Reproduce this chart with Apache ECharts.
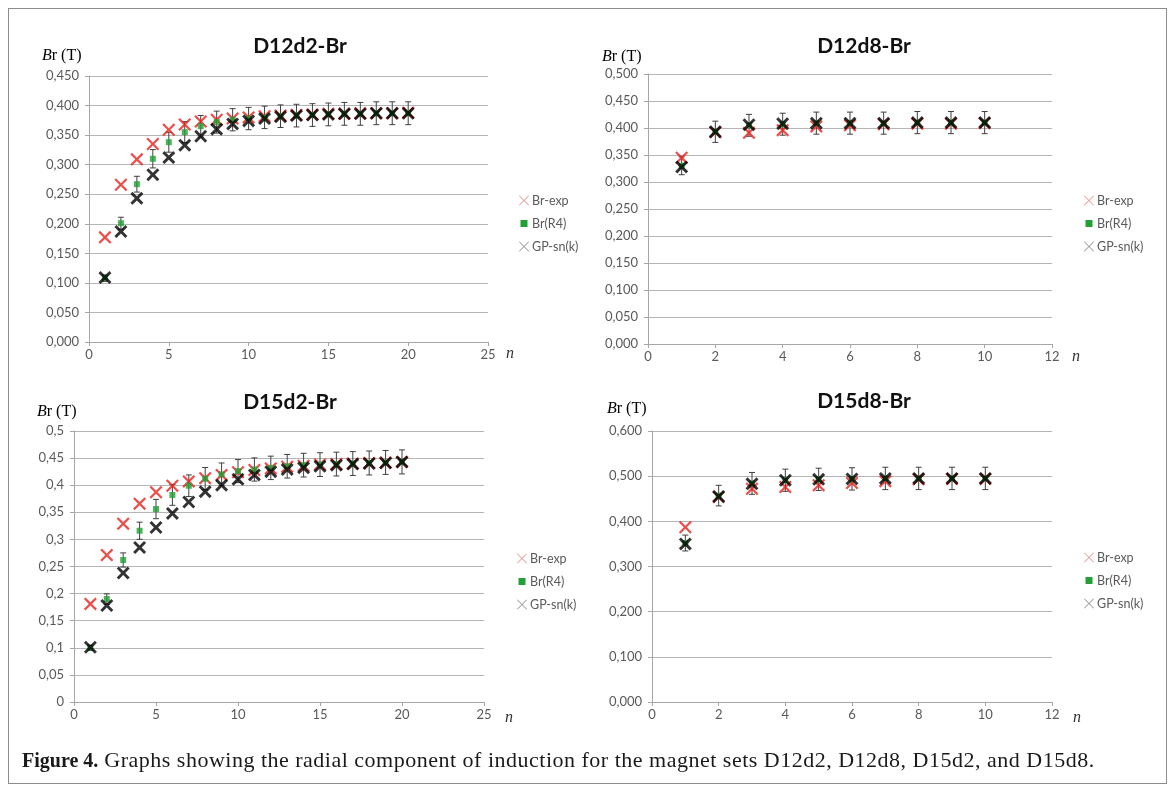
<!DOCTYPE html>
<html>
<head>
<meta charset="utf-8">
<script src="https://cdn.jsdelivr.net/npm/echarts@6/dist/echarts.min.js"></script>
<style>
  body { margin: 0; background: #fff; }
  #marco { position: absolute; left: 8px; top: 8px; width: 1157px; height: 774px; border: 1px solid #8c8c8c; }
  #grafico { position: absolute; left: 0; top: 0; width: 1171px; height: 792px; }
  #pie { position: absolute; left: 22px; top: 747px; font-family: "Liberation Serif", serif; font-size: 22px; letter-spacing: 0.5px; color: #1a1a1a; white-space: nowrap; }
  #pie b { font-size: 20px; letter-spacing: 0; }
</style>
</head>
<body>
<div id="marco"></div>
<div id="grafico"></div>
<div id="pie"><b>Figure 4.</b> Graphs showing the radial component of induction for the magnet sets D12d2, D12d8, D15d2, and D15d8.</div>
<script>
// valores de n
var nLargo = [1, 2, 3, 4, 5, 6, 7, 8, 9, 10, 11, 12, 13, 14, 15, 16, 17, 18, 19, 20];
var nCorto = [1, 2, 3, 4, 5, 6, 7, 8, 9, 10];

var nombres = ['Br-exp', 'Br(R4)', 'GP-sn(k)'];
var titulos = ['D12d2-Br', 'D12d8-Br', 'D15d2-Br', 'D15d8-Br'];

// D12d2
var d12d2Exp = [0.177, 0.266, 0.309, 0.335, 0.359, 0.368, 0.373, 0.376, 0.378, 0.380, 0.382, 0.383, 0.384, 0.385, 0.386, 0.386, 0.387, 0.387, 0.387, 0.388];
var d12d2R4 = [0.108, 0.201, 0.267, 0.310, 0.338, 0.355, 0.365, 0.372, 0.376, 0.378, 0.380, 0.382, 0.383, 0.384, 0.385, 0.386, 0.386, 0.387, 0.387, 0.387];
var d12d2GP = [0.109, 0.187, 0.243, 0.283, 0.312, 0.333, 0.348, 0.360, 0.369, 0.374, 0.378, 0.381, 0.383, 0.384, 0.385, 0.386, 0.386, 0.387, 0.387, 0.387];

// D12d8
var d12d8Exp = [0.345, 0.392, 0.391, 0.396, 0.403, 0.405, 0.407, 0.408, 0.408, 0.409];
var d12d8R4 = [0.330, 0.393, 0.405, 0.407, 0.409, 0.409, 0.409, 0.410, 0.410, 0.410];
var d12d8GP = [0.328, 0.393, 0.406, 0.408, 0.409, 0.409, 0.409, 0.410, 0.410, 0.410];

// D15d2
var d15d2Exp = [0.181, 0.271, 0.329, 0.366, 0.387, 0.399, 0.407, 0.413, 0.419, 0.424, 0.428, 0.431, 0.434, 0.436, 0.438, 0.439, 0.440, 0.441, 0.442, 0.443];
var d15d2R4 = [0.100, 0.190, 0.262, 0.316, 0.356, 0.382, 0.399, 0.412, 0.420, 0.426, 0.429, 0.432, 0.435, 0.437, 0.438, 0.439, 0.440, 0.441, 0.442, 0.443];
var d15d2GP = [0.101, 0.178, 0.238, 0.285, 0.322, 0.348, 0.369, 0.388, 0.400, 0.411, 0.419, 0.425, 0.429, 0.432, 0.435, 0.437, 0.439, 0.440, 0.441, 0.443];

// D15d8
var d15d8Exp = [0.387, 0.454, 0.472, 0.476, 0.480, 0.485, 0.489, 0.493, 0.494, 0.494];
var d15d8R4 = [0.352, 0.457, 0.484, 0.491, 0.493, 0.494, 0.495, 0.495, 0.495, 0.495];
var d15d8GP = [0.350, 0.455, 0.483, 0.491, 0.493, 0.494, 0.495, 0.495, 0.495, 0.495];

// barras de error (+-5 %) sobre Br(R4)
var errorRel = 0.05;

// ejes
var xMax = [25, 12, 25, 12];
var xPaso = [5, 2, 5, 2];
var yMax = [0.45, 0.5, 0.5, 0.6];
var yPaso = [0.05, 0.05, 0.05, 0.1];

var FUENTE = 'Lato, "Open Sans", sans-serif';
var SERIF = '"Liberation Serif", "DejaVu Serif", serif';

// posiciones de cada panel [left, top, width, height]
var cajas = [
  [89, 76, 399, 266],
  [648, 74, 404, 270],
  [74, 431, 410, 271],
  [652, 431, 400, 271],
];
var leyendas = [[514, 189], [1079, 189], [512, 547], [1079, 546]];
var etiquetasY = [[42, 56], [602, 57], [37, 412], [607, 409]];
var etiquetasN = [[510, 354], [1076, 357], [509, 718], [1077, 718]];
var centrosTitulo = [[300, 46], [864, 46], [290, 402], [864, 401]];

// X rellena (grosor fino y grueso)
var cruzFina = 'path://M0,1.2L1.2,0L5,3.8L8.8,0L10,1.2L6.2,5L10,8.8L8.8,10L5,6.2L1.2,10L0,8.8L3.8,5Z';
var cruzGruesa = 'path://M0,1.6L1.6,0L5,3.4L8.4,0L10,1.6L6.6,5L10,8.4L8.4,10L5,6.6L1.6,10L0,8.4L3.4,5Z';
var cruzLeyenda = 'path://M0,0.6L0.6,0L5,4.4L9.4,0L10,0.6L5.6,5L10,9.4L9.4,10L5,5.6L0.6,10L0,9.4L4.4,5Z';
var cuadroLeyenda = 'path://M0,0M10,10M1.5,1.5L8.5,1.5L8.5,8.5L1.5,8.5Z';

function formatoEje(panel) {
  return function (v) {
    if (panel === 2) {
      return String(parseFloat(v.toFixed(3))).replace('.', ',');
    }
    return v.toFixed(3).replace('.', ',');
  };
}

function pares(xs, ys) {
  return xs.map(function (n, i) {
    return [n, ys[i]];
  });
}

function dibujarError(params, api) {
  var x = api.value(0);
  var abajo = api.coord([x, api.value(1)]);
  var arriba = api.coord([x, api.value(2)]);
  var w = 3;
  var estilo = { stroke: '#3f3f3f', lineWidth: 1 };
  return {
    type: 'group',
    children: [
      { type: 'line', shape: { x1: abajo[0], y1: abajo[1], x2: arriba[0], y2: arriba[1] }, style: estilo },
      { type: 'line', shape: { x1: abajo[0] - w, y1: abajo[1], x2: abajo[0] + w, y2: abajo[1] }, style: estilo },
      { type: 'line', shape: { x1: arriba[0] - w, y1: arriba[1], x2: arriba[0] + w, y2: arriba[1] }, style: estilo },
    ],
  };
}

var paneles = [
  { xs: nLargo, exp: d12d2Exp, r4: d12d2R4, gp: d12d2GP },
  { xs: nCorto, exp: d12d8Exp, r4: d12d8R4, gp: d12d8GP },
  { xs: nLargo, exp: d15d2Exp, r4: d15d2R4, gp: d15d2GP },
  { xs: nCorto, exp: d15d8Exp, r4: d15d8R4, gp: d15d8GP },
];

var grids = [], xAxes = [], yAxes = [], series = [], legends = [], graficos = [];

paneles.forEach(function (p, i) {
  var c = cajas[i];
  grids.push({ left: c[0], top: c[1], width: c[2], height: c[3] });

  xAxes.push({
    type: 'value',
    gridIndex: i,
    min: 0,
    max: xMax[i],
    interval: xPaso[i],
    axisLine: { show: true, lineStyle: { color: '#a6a6a6' } },
    axisTick: { show: true, length: 4, lineStyle: { color: '#a6a6a6' } },
    axisLabel: { margin: 6, color: '#595959', fontFamily: FUENTE, fontSize: 13 },
    splitLine: { show: false },
  });

  yAxes.push({
    type: 'value',
    gridIndex: i,
    min: 0,
    max: yMax[i],
    interval: yPaso[i],
    axisLine: { show: true, lineStyle: { color: '#a6a6a6' } },
    axisTick: { show: true, length: 4, lineStyle: { color: '#a6a6a6' } },
    axisLabel: { margin: 10, color: '#595959', fontFamily: FUENTE, fontSize: 13, formatter: formatoEje(i) },
    splitLine: { show: true, lineStyle: { color: '#b5b5b5', width: 1 } },
  });

  // Br-exp (rojo)
  series.push({
    name: nombres[0],
    type: 'scatter',
    xAxisIndex: i,
    yAxisIndex: i,
    symbol: cruzFina,
    symbolSize: 13,
    itemStyle: { color: '#e8211c' },
    data: pares(p.xs, p.exp),
  });

  // barras de error de Br(R4)
  series.push({
    name: nombres[1],
    type: 'custom',
    xAxisIndex: i,
    yAxisIndex: i,
    renderItem: dibujarError,
    encode: { x: 0, y: [1, 2] },
    data: p.xs.map(function (n, k) {
      return [n, p.r4[k] * (1 - errorRel), p.r4[k] * (1 + errorRel)];
    }),
  });

  // Br(R4) (verde)
  series.push({
    name: nombres[1],
    type: 'scatter',
    xAxisIndex: i,
    yAxisIndex: i,
    symbol: 'rect',
    symbolSize: 6,
    itemStyle: { color: '#22a035' },
    data: pares(p.xs, p.r4),
  });

  // GP-sn(k) (negro)
  series.push({
    name: nombres[2],
    type: 'scatter',
    xAxisIndex: i,
    yAxisIndex: i,
    symbol: cruzGruesa,
    symbolSize: 13,
    itemStyle: { color: '#000000' },
    data: pares(p.xs, p.gp),
  });

  legends.push({
    orient: 'vertical',
    left: leyendas[i][0],
    top: leyendas[i][1],
    itemWidth: 10,
    itemHeight: 10,
    itemGap: 10,
    selectedMode: false,
    textStyle: { fontFamily: FUENTE, fontSize: 12.5, color: '#595959', padding: [0, 0, 0, -2] },
    data: [
      { name: nombres[0], icon: cruzLeyenda, itemStyle: { color: '#e07a7a' } },
      { name: nombres[1], icon: cuadroLeyenda, itemStyle: { color: '#22a035' } },
      { name: nombres[2], icon: cruzLeyenda, itemStyle: { color: '#7a7a7a' } },
    ],
  });

  // titulo del panel
  graficos.push({
    type: 'text',
    x: centrosTitulo[i][0],
    y: centrosTitulo[i][1],
    style: {
      text: titulos[i],
      font: 'bold 21px ' + FUENTE,
      fill: '#111',
      textAlign: 'center',
      textVerticalAlign: 'middle',
    },
  });

  // Br (T)
  graficos.push({
    type: 'text',
    x: etiquetasY[i][0],
    y: etiquetasY[i][1],
    style: {
      text: '{i|B}{r|r (T)}',
      textVerticalAlign: 'middle',
      rich: {
        i: { fontFamily: SERIF, fontStyle: 'italic', fontSize: 16, color: '#333' },
        r: { fontFamily: SERIF, fontSize: 16, color: '#333' },
      },
    },
  });

  // n
  graficos.push({
    type: 'text',
    x: etiquetasN[i][0],
    y: etiquetasN[i][1],
    style: {
      text: 'n',
      font: 'italic 16px ' + SERIF,
      fill: '#333',
      textAlign: 'center',
      textVerticalAlign: 'middle',
    },
  });
});

var miGrafico = echarts.init(document.getElementById('grafico'));
miGrafico.setOption({
  animation: false,
  grid: grids,
  xAxis: xAxes,
  yAxis: yAxes,
  legend: legends,
  series: series,
  graphic: graficos,
});
</script>
</body>
</html>
